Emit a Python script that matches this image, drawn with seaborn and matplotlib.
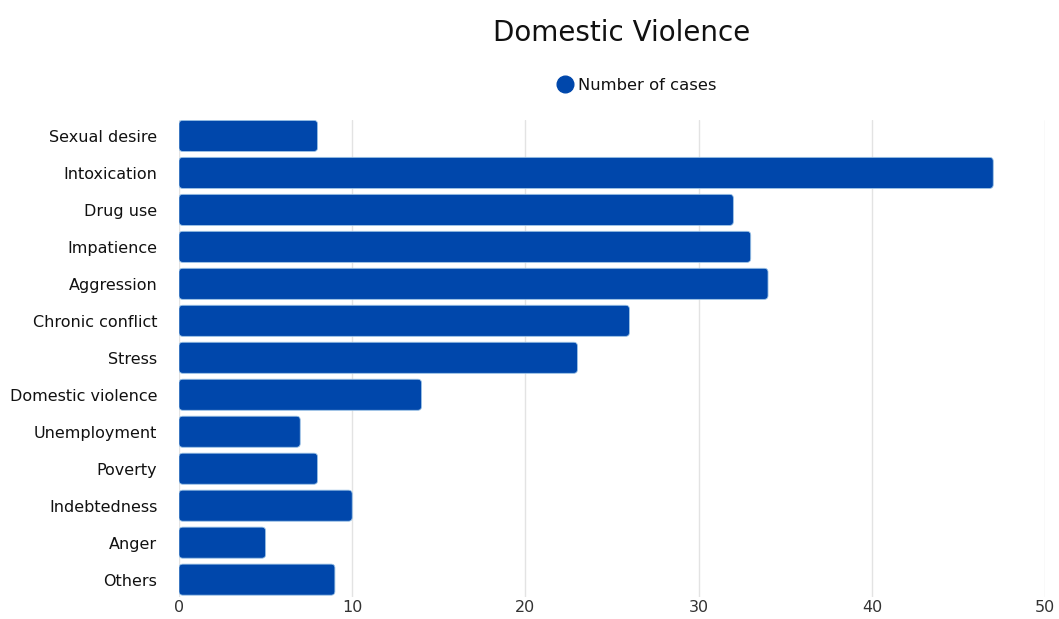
import pandas as pd
import seaborn as sns
import matplotlib.pyplot as plt
from matplotlib.lines import Line2D
from matplotlib.patches import FancyBboxPatch

causes = ["Sexual desire", "Intoxication", "Drug use", "Impatience", "Aggression",
          "Chronic conflict", "Stress", "Domestic violence", "Unemployment",
          "Poverty", "Indebtedness", "Anger", "Others"]
cases = [8, 47, 32, 33, 34, 26, 23, 14, 7, 8, 10, 5, 9]
xticks = [0, 10, 20, 30, 40, 50]

df = pd.DataFrame({"Cause": causes, "Number of cases": cases})
bar_color = "#0047AB"

sns.set_style("white")
plt.rcParams['font.family'] = ['DejaVu Sans']

fig = plt.figure(figsize=(10.59, 6.19), dpi=100)
ax = fig.add_axes([0.169, 0.0355, 0.818, 0.7706])
sns.barplot(x="Number of cases", y="Cause", data=df, color=bar_color,
            width=0.84, ax=ax, zorder=3)

ax.set_xlim(0, 50)
ax.set_ylim(12.47, -0.43)

# round the bar corners (aspect = pixels per x unit / pixels per y unit)
pos = ax.get_position()
y0, y1 = ax.get_ylim()
aspect = (pos.width * 1059 / 50) / (pos.height * 619 / abs(y0 - y1))
for p in list(ax.patches):
    rb = FancyBboxPatch((p.get_x(), p.get_y()), p.get_width(), p.get_height(),
                        boxstyle="round,pad=0,rounding_size=0.22",
                        mutation_aspect=aspect,
                        facecolor=bar_color, edgecolor="#9cc3e6", linewidth=0.6, zorder=3)
    p.remove()
    ax.add_patch(rb)

ax.set_xticks(xticks)
ax.grid(axis="x", color="#e3e3e3", linewidth=1, zorder=0)
ax.set_xlabel("")
ax.set_ylabel("")
for s in ax.spines.values():
    s.set_visible(False)
ax.tick_params(axis="both", length=0, labelsize=11.5, colors="#111111")
ax.tick_params(axis="x", pad=2, colors="#333333")
ax.tick_params(axis="y", pad=15.5)

fig.suptitle("Domestic Violence", x=0.587, y=0.97, fontsize=20, color="#111111")
handle = Line2D([], [], marker="o", linestyle="", color=bar_color, markersize=12)
fig.legend([handle], ["Number of cases"], loc="center", bbox_to_anchor=(0.597, 0.862),
           frameon=False, fontsize=11.8, handletextpad=-0.2, borderaxespad=0,
           labelcolor="#111111")

fig.savefig("out.png", dpi=100)
